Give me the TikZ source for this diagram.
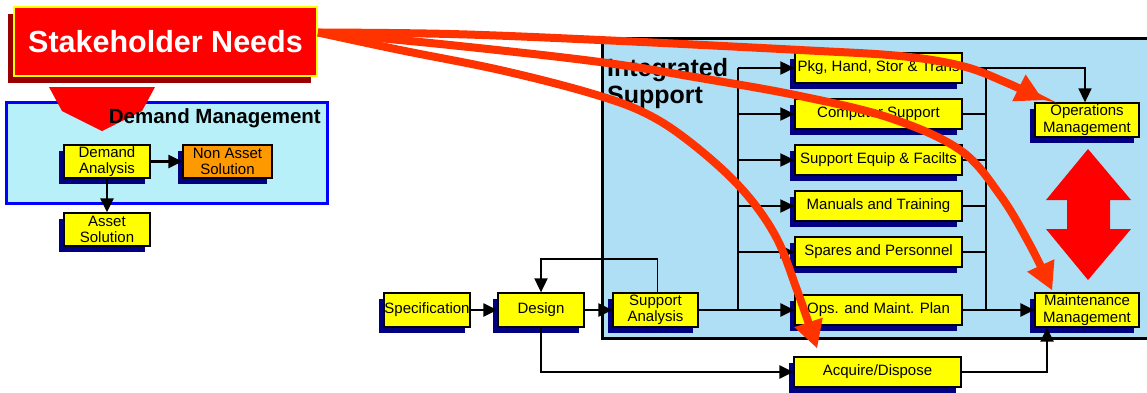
\documentclass[tikz,border=0pt]{standalone}
\usepackage{fontspec}
\setmainfont{Liberation Sans}
\usetikzlibrary{arrows.meta,shadows}
\definecolor{yel}{HTML}{FFFF00}
\definecolor{navyc}{HTML}{000080}
\definecolor{isfill}{HTML}{AEDFF5}
\definecolor{dmfill}{HTML}{B8F0FA}
\definecolor{curvec}{HTML}{FF3300}
\definecolor{shred}{HTML}{990000}
\definecolor{orangec}{HTML}{FF9900}
\definecolor{bigred}{HTML}{FF0000}
\begin{document}
\begin{tikzpicture}[x=1pt,y=-1pt,
  ybx/.style={draw=black,line width=1.3pt,fill=yel,inner sep=0pt,align=center,
     font=\fontsize{15}{16.5}\selectfont,
     general shadow={fill=navyc,draw=none,shadow xshift=-5pt,shadow yshift=-6pt}},
  sbx/.style={ybx,minimum width=86pt,minimum height=33pt},
  rbx/.style={ybx,minimum width=167pt,minimum height=30pt},
  mbx/.style={ybx,minimum width=104pt,minimum height=34pt},
  tipb/.style={-{Triangle[length=14pt,width=13pt]}},
  conn/.style={line width=2.3pt,tipb},
  thinl/.style={line width=1.6pt},
  need/.style={draw=curvec,line width=8pt,line cap=butt,
     -{Triangle[length=27pt,width=30pt,line width=0pt]}}
]
\useasboundingbox (0,0) rectangle (1147,392);
\clip (0,0) rectangle (1147,392);

% Integrated Support container
\fill[isfill] (602,38) rectangle (1170,338);
\draw[line width=3pt] (1170,38) -- (602,38) -- (602,338) -- (1170,338);
\node[anchor=north west,inner sep=0pt,align=left,
      font=\fontsize{25}{27}\selectfont\bfseries] (ist) at (607,58) {Integrated\\Support};

% Demand Management container
\node[draw=blue,line width=3pt,fill=dmfill,minimum width=321pt,minimum height=101pt,
      inner sep=0pt] (dm) at (166.5,152.5) {};

% Stakeholder Needs
\node[draw=yel,line width=2pt,fill=bigred,text=white,
      font=\fontsize{30.5}{32}\selectfont\bfseries,
      minimum width=303pt,minimum height=69pt,inner sep=0pt,
      general shadow={fill=shred,draw=none,shadow xshift=-6pt,shadow yshift=-7pt}]
      (sn) at (165.5,41.5) {Stakeholder Needs};

% block arrow into Demand Management
\fill[bigred] (49,87) -- (155,87) -- (142,111) -- (102,131) -- (62,111) -- cycle;
\node[anchor=base east,inner sep=0pt,font=\fontsize{20.5}{22}\selectfont\bfseries]
      (dmt) at (321,123) {Demand Management};

% Demand boxes
\node[sbx] (da) at (107,161.5) {Demand\\Analysis};
\node[sbx,fill=orangec,minimum width=89pt] (nas) at (227.5,161.5) {Non Asset\\Solution};
\node[sbx] (as) at (107,229.5) {Asset\\Solution};
\draw[conn] (da.east) -- (nas.west);
\draw[conn] (da.south) -- (as.north);

% Left chain
\node[sbx,minimum height=34pt] (spec) at (427,310) {Specification};
\node[sbx,minimum height=34pt] (des) at (541,310) {Design};
\node[sbx,minimum height=34pt,minimum width=85pt] (sa) at (655.5,310) {Support\\Analysis};

% Right column
\node[rbx] (pkg) at (878.5,68) {Pkg, Hand, Stor \& Trans};
\node[rbx] (cs) at (878.5,114) {Computer Support};
\node[rbx] (se) at (878.5,160) {Support Equip \& Facilts};
\node[rbx] (mt) at (878.5,206) {Manuals and Training};
\node[rbx] (sp) at (878.5,252) {Spares and Personnel};
\node[rbx] (opp) at (878.5,310) {Ops. and Maint. Plan};
\node[rbx] (acq) at (877.5,372) {Acquire/Dispose};

\node[mbx] (om) at (1087,120) {Operations\\Management};
\node[mbx] (mm) at (1087,310) {Maintenance\\Management};

% connectors
\draw[conn] (spec.east) -- (des.west);
\draw[conn] (des.east) -- (sa.west);
\draw[line width=1.9pt,tipb]
      ([xshift=2pt]sa.north) -- ++(0,-33) -| (des.north);
\draw[conn] (des.south) |- (acq.west);
\draw[conn] (sa.east) -- (opp.west);

\coordinate (bl) at (738,68);
\draw[thinl,line width=1.9pt] (bl) -- (bl |- opp.west);
\foreach \b in {pkg,cs,se,mt,sp}
  \draw[conn,line width=2pt] (bl |- \b.west) -- (\b.west);

\coordinate (br) at (986,68);
\draw[thinl] (br) -- (br |- opp.east);
\foreach \b in {cs,se,mt,sp}
  \draw[thinl] (\b.east) -- (br |- \b.east);
\draw[thinl,tipb] (pkg.east) -| ([xshift=-2pt]om.north);
\draw[conn] (opp.east) -- (mm.west);
\coordinate (mmin) at ([xshift=-40pt]mm.south);
\draw[conn] (acq.east) -| (mmin);

% double red arrow
\fill[bigred] (1088,149) -- (1131,200) -- (1110,200) -- (1110,229) -- (1131,229)
   -- (1088,280) -- (1046,229) -- (1067,229) -- (1067,200) -- (1046,200) -- cycle;

% stakeholder curves
\coordinate (src) at ([yshift=9pt]sn.east);
\coordinate (t1) at (1043,100);
\coordinate (t2) at (1052,290);
\coordinate (t3) at (817,348);
\draw[need] plot[smooth,tension=0.6] coordinates
  {(src) (450,34) (600,40) (800,50) (900,56) (962,66) (1005,82) (t1)};
\draw[need] plot[smooth,tension=0.6] coordinates
  {(src) (450,45) (600,62) (700,78) (800,96) (890,118) (960,150) (1000,195) (1030,245) (t2)};
\draw[need] plot[smooth,tension=0.6] coordinates
  {(src) (400,50) (500,70) (590,93) (645,113) (690,142) (740,187) (775,235) (797,290) (t3)};
\end{tikzpicture}
\end{document}
